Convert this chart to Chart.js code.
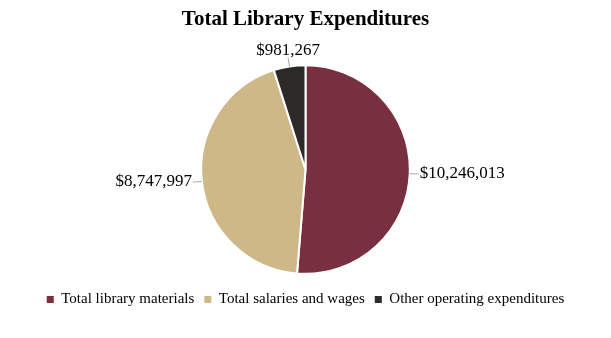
<!DOCTYPE html>
<html>
<head>
<meta charset="utf-8">
<script src="https://cdn.jsdelivr.net/npm/chart.js@4/dist/chart.umd.min.js"></script>
<style>
  html, body { margin: 0; padding: 0; background: #fff; }
  #wrap { width: 611px; height: 338px; }
</style>
</head>
<body>
<div id="wrap"><canvas id="pieChart" width="611" height="338"></canvas></div>
<script>
const categories = ["Total library materials", "Total salaries and wages", "Other operating expenditures"];
const expenditures = [10246013, 8747997, 981267];
const sliceColors = ["#782F40", "#CEB888", "#2C2A29"];

const serif = "'Liberation Serif', 'DejaVu Serif', serif";

// draw "$" value labels outside each slice with a thin leader line
const outsideLabels = {
  id: "outsideLabels",
  afterDatasetsDraw(chart) {
    const ctx = chart.ctx;
    const meta = chart.getDatasetMeta(0);
    ctx.save();
    ctx.font = "17px " + serif;
    ctx.fillStyle = "#000";
    ctx.strokeStyle = "#A6A6A6";
    ctx.lineWidth = 1;
    meta.data.forEach((arc, i) => {
      const p = arc.getProps(["x", "y", "startAngle", "endAngle", "outerRadius"], true);
      const a = (p.startAngle + p.endAngle) / 2;
      const cos = Math.cos(a), sin = Math.sin(a);
      const x0 = p.x + cos * p.outerRadius, y0 = p.y + sin * p.outerRadius;
      const text = "$" + expenditures[i].toLocaleString("en-US");
      ctx.beginPath();
      ctx.moveTo(x0, y0);
      if (Math.abs(cos) < 0.3) {
        const x1 = p.x + cos * (p.outerRadius + 9), y1 = p.y + sin * (p.outerRadius + 9);
        ctx.lineTo(x1, y1);
        ctx.stroke();
        ctx.textAlign = "center";
        ctx.textBaseline = sin < 0 ? "bottom" : "top";
        ctx.fillText(text, x1, y1 + (sin < 0 ? 1 : -1));
      } else {
        const x1 = p.x + cos * (p.outerRadius + 6), y1 = p.y + sin * (p.outerRadius + 6);
        const dir = cos > 0 ? 1 : -1;
        ctx.lineTo(x1, y1);
        ctx.lineTo(x1 + dir * 3, y1);
        ctx.stroke();
        ctx.textAlign = dir > 0 ? "left" : "right";
        ctx.textBaseline = "middle";
        ctx.fillText(text, x1 + dir * 4, y1);
      }
    });
    ctx.restore();
  }
};

new Chart(document.getElementById("pieChart"), {
  type: "pie",
  data: {
    labels: categories,
    datasets: [{
      data: expenditures,
      backgroundColor: sliceColors,
      borderColor: "#fff",
      borderWidth: 2,
      hoverOffset: 0
    }]
  },
  options: {
    responsive: false,
    animation: false,
    events: [],
    layout: { padding: { top: 0, bottom: 21, left: 0, right: 0 } },
    plugins: {
      title: {
        display: true,
        text: "Total Library Expenditures",
        color: "#000",
        font: { family: serif, size: 21, weight: "bold" },
        padding: { top: 7, bottom: 32 }
      },
      legend: {
        position: "bottom",
        // empty legend title only adds a gap between pie and legend
        title: { display: true, text: "", font: { size: 6 }, padding: 0 },
        labels: {
          color: "#000",
          font: { family: serif, size: 15 },
          boxWidth: 7,
          boxHeight: 7,
          padding: 10,
          generateLabels(chart) {
            const items = Chart.overrides.pie.plugins.legend.labels.generateLabels(chart);
            items.forEach(it => { it.lineWidth = 0; it.strokeStyle = it.fillStyle; });
            return items;
          }
        }
      },
      tooltip: { enabled: false }
    }
  },
  plugins: [outsideLabels]
});
</script>
</body>
</html>
